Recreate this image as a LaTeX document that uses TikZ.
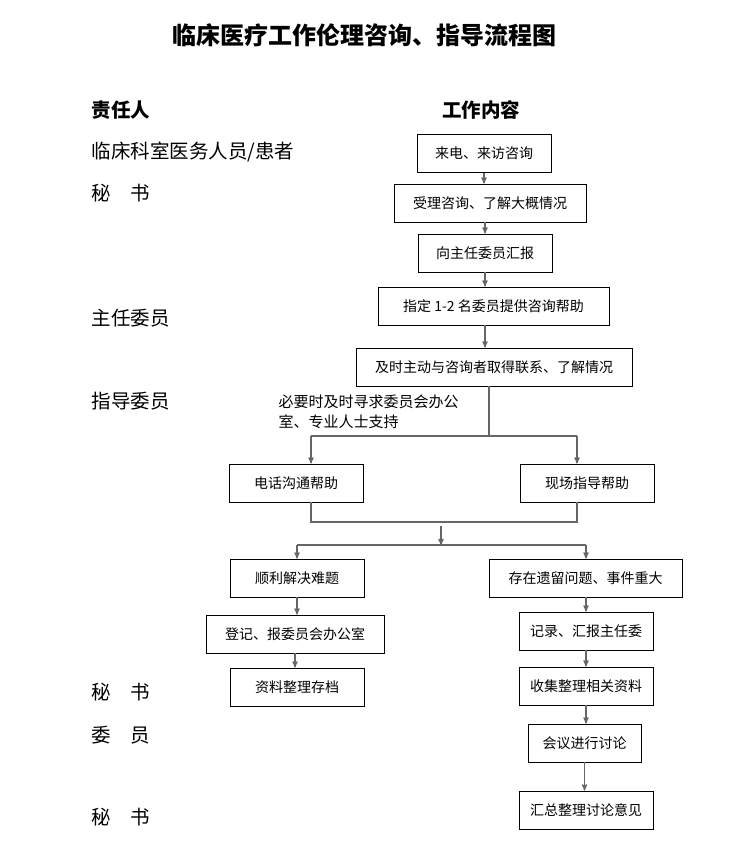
\documentclass[tikz,border=0pt]{standalone}
\usepackage{fontspec}
\setmainfont{Noto Sans CJK SC}
\usetikzlibrary{arrows,positioning}

\begin{document}
\begin{tikzpicture}[x=1pt,y=-1pt,>=stealth',
    box/.style={draw,line width=0.9pt,minimum height=38pt,inner sep=0pt,
                font=\fontsize{14}{17}\selectfont},
    link/.style={draw=black!60,line width=1.2pt},
    flow/.style={link,->},
    role/.style={anchor=west,font=\fontsize{19.5}{23}\selectfont}]

    \useasboundingbox (0,0) rectangle (748,845);

    \node[font=\bfseries\fontsize{24}{28}\selectfont] (title) at (364,35) {临床医疗工作伦理咨询、指导流程图};

    % left column
    \node[role,font=\bfseries\fontsize{19.5}{23}\selectfont] (r0) at (88,110) {责任人};
    \node[role] (r1) at (88,152) {临床科室医务人员/患者};
    \node[role] (r2) at (88,193) {秘　书};
    \node[role] (r3) at (88,318) {主任委员};
    \node[role] (r4) at (88,401) {指导委员};
    \node[role] (r5) at (88,692) {秘　书};
    \node[role] (r6) at (88,735) {委　员};
    \node[role] (r7) at (88,817) {秘　书};

    \node[font=\bfseries\fontsize{19.5}{23}\selectfont] (head) at (481,110) {工作内容};

    % boxes
    \node[box,minimum width=134pt] (b1) at (484,153.5) {来电、来访咨询};
    \node[box,minimum width=192pt] (b2) at (490,203) {受理咨询、了解大概情况};
    \node[box,minimum width=134pt] (b3) at (485,253) {向主任委员汇报};
    \node[box,minimum width=231pt] (b4) at (493.5,306) {指定 1-2 名委员提供咨询帮助};
    \node[box,minimum width=276pt] (b5) at (494,367) {及时主动与咨询者取得联系、了解情况};

    \node[anchor=west,align=left,font=\fontsize{15}{20}\selectfont] (note) at (275,412)
        {必要时及时寻求委员会办公\\室、专业人士支持};

    \node[box,minimum width=134pt] (tel) at (296,483) {电话沟通帮助};
    \node[box,minimum width=134pt] (site) at (587,483) {现场指导帮助};

    \node[box,minimum width=134pt] (ok) at (297,578) {顺利解决难题};
    \node[box,minimum width=178pt] (reg) at (295,634) {登记、报委员会办公室};
    \node[box,minimum width=134pt] (arch) at (297,687) {资料整理存档};

    \node[box,minimum width=193pt] (rest) at (585.5,578) {存在遗留问题、事件重大};
    \node[box,minimum width=134pt] (rec) at (586,631) {记录、汇报主任委};
    \node[box,minimum width=134pt] (coll) at (586,686) {收集整理相关资料};
    \node[box,minimum width=113pt] (meet) at (584.5,743) {会议进行讨论};
    \node[box,minimum width=134pt] (sum) at (586,810) {汇总整理讨论意见};

    % connectors
    \draw[flow] (b1.south) -- (b1.south |- b2.north);
    \draw[flow] (b2.south -| b3) -- (b3.north);
    \draw[flow] (b3.south) -- (b3.south |- b4.north);
    \draw[flow] (b4.south -| b3) -- (b3 |- b5.north);

    \coordinate (s0) at (489,436);
    \coordinate (sl) at (311,436);
    \coordinate (sr) at (577,436);
    \draw[link] (s0 |- b5.south) -- (s0);
    \draw[link] (sl) -- (sr);
    \draw[flow] (sl) -- (sl |- tel.north);
    \draw[flow] (sr) -- (sr |- site.north);

    \coordinate (ml) at (311,522);
    \coordinate (mr) at (577,522);
    \draw[link] (ml |- tel.south) -- (ml) -- (mr) -- (mr |- site.south);

    \coordinate (m1) at (441,526);
    \coordinate (m2) at (441,545);
    \coordinate (kl) at (297,545);
    \coordinate (kr) at (586,545);
    \draw[flow] (m1) -- (m2);
    \draw[link] (kl) -- (kr);
    \draw[flow] (kl) -- (kl |- ok.north);
    \draw[flow] (kr) -- (kr |- rest.north);

    \draw[flow] (ok.south) -- (ok.south |- reg.north);
    \draw[flow] (reg.south) -- (reg.south |- arch.north);

    \draw[flow] (rec.north |- rest.south) -- (rec.north);
    \draw[flow] (rec.south) -- (coll.north);
    \draw[flow] (coll.south) -- (coll.south |- meet.north);
    \draw[flow] (meet.south) -- (meet.south |- sum.north);

\end{tikzpicture}
\end{document}
